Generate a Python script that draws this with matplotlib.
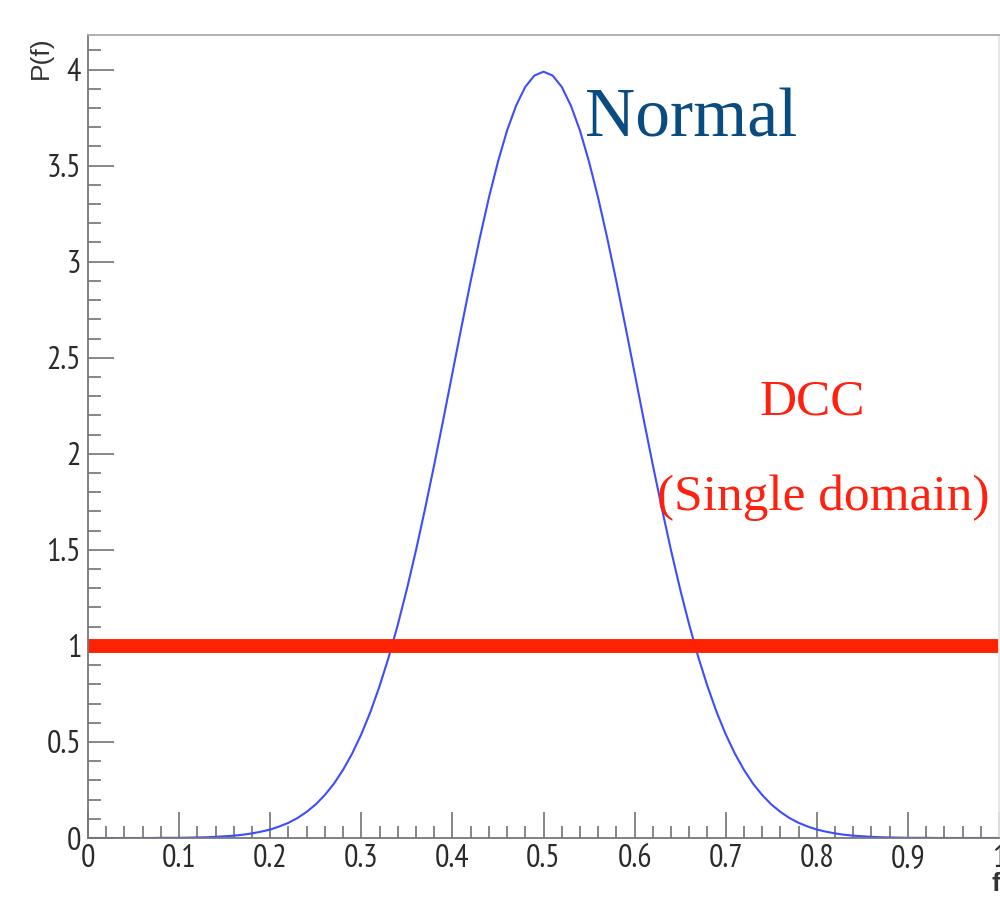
import numpy as np
import matplotlib
matplotlib.use('Agg')
import matplotlib.pyplot as plt
from matplotlib.ticker import MultipleLocator

f_values = np.linspace(0.0, 1.0, 101)

# P(f) of the "Normal" curve (peak ~3.99 at f = 0.5)
normal_left = [0.0, 0.0, 0.0, 0.0, 0.0, 0.0, 0.0, 0.0,
               0.001, 0.001, 0.001, 0.002, 0.003, 0.004, 0.006, 0.009,
               0.012, 0.017, 0.024, 0.033, 0.044, 0.060, 0.079, 0.104,
               0.136, 0.175, 0.224, 0.283, 0.355, 0.440, 0.540, 0.656,
               0.790, 0.940, 1.109, 1.295, 1.497, 1.714, 1.942, 2.178,
               2.420, 2.661, 2.897, 3.122, 3.332, 3.520, 3.683, 3.813,
               3.910, 3.969, 3.989]
normal_right = [3.969, 3.910, 3.813, 3.683, 3.520, 3.332, 3.122, 2.897,
                2.661, 2.420, 2.178, 1.942, 1.714, 1.497, 1.295, 1.109,
                0.940, 0.790, 0.656, 0.540, 0.440, 0.355, 0.283, 0.224,
                0.175, 0.136, 0.104, 0.079, 0.060, 0.044, 0.033, 0.024,
                0.017, 0.012, 0.009, 0.006, 0.004, 0.003, 0.002, 0.001,
                0.001, 0.001, 0.0, 0.0, 0.0, 0.0, 0.0, 0.0, 0.0, 0.0]
normal_pf = normal_left + normal_right

# DCC (single domain): flat distribution
dcc_f = [0.0, 1.0]
dcc_pf = [1.0, 1.0]

x_ticks = [0, 0.1, 0.2, 0.3, 0.4, 0.5, 0.6, 0.7, 0.8, 0.9, 1]
x_tick_labels = ['0', '0.1', '0.2', '0.3', '0.4', '0.5', '0.6', '0.7', '0.8', '0.9', '1']
y_ticks = [0, 0.5, 1, 1.5, 2, 2.5, 3, 3.5, 4]
y_tick_labels = ['0', '0.5', '1', '1.5', '2', '2.5', '3', '3.5', '4']

# The picture is squeezed sideways, so a narrow face fits the tick labels better
tick_font = ['PT Sans Narrow', 'Liberation Sans', 'DejaVu Sans']
serif_font = ['Liberation Serif', 'DejaVu Serif']

W, H = 1000, 898
fig = plt.figure(figsize=(W / 100, H / 100), dpi=100)
ax = fig.add_axes([88 / W, 60 / H, 911 / W, 803 / H])

ax.plot(f_values, normal_pf, color='#3d4cff', lw=1.5)
ax.plot(dcc_f, dcc_pf, color='#ff2200', lw=10, solid_capstyle='butt')

ax.set_xlim(0, 1)
ax.set_ylim(0, 4.18)

ax.set_xticks(x_ticks)
ax.set_xticklabels(x_tick_labels)
ax.set_yticks(y_ticks)
ax.set_yticklabels(y_tick_labels)
ax.xaxis.set_minor_locator(MultipleLocator(0.02))
ax.yaxis.set_minor_locator(MultipleLocator(0.1))

ax.tick_params(which='both', direction='in', colors='#666666', width=1.1,
               top=False, right=False)
ax.tick_params(which='major', length=19, labelsize=23, labelcolor='#2a2a2a')
ax.tick_params(which='minor', length=9)
ax.tick_params(axis='x', pad=4)
ax.tick_params(axis='y', pad=5)
for lab in ax.get_xticklabels() + ax.get_yticklabels():
    lab.set_fontfamily(tick_font)

ax.spines['left'].set_color('#777777')
ax.spines['bottom'].set_color('#777777')
ax.spines['top'].set_color('#aaaaaa')
ax.spines['right'].set_color('#e6e6e6')
for sp in ax.spines.values():
    sp.set_linewidth(1.3)

# axis titles, ROOT style: at the ends of the axes
fig.text(41 / W, 1 - 36 / H, 'P(f)', rotation=90, ha='center', va='top',
         fontsize=19, family='Liberation Sans', color='#333333')
fig.text(996 / W, 1 - 872 / H, 'f', ha='center', va='top',
         fontsize=19, family='Liberation Sans', color='#333333', weight='bold')

# annotations
ax.text(0.662, 3.74, 'Normal', ha='center', va='center', fontsize=50,
        family=serif_font, color='#0b4c80')
ax.text(0.795, 2.27, 'DCC', ha='center', va='center', fontsize=37,
        family=serif_font, color='#ff2010')
ax.text(0.807, 1.77, '(Single domain)', ha='center', va='center', fontsize=37,
        family=serif_font, color='#ff2010')

fig.savefig('out.png', dpi=100)
